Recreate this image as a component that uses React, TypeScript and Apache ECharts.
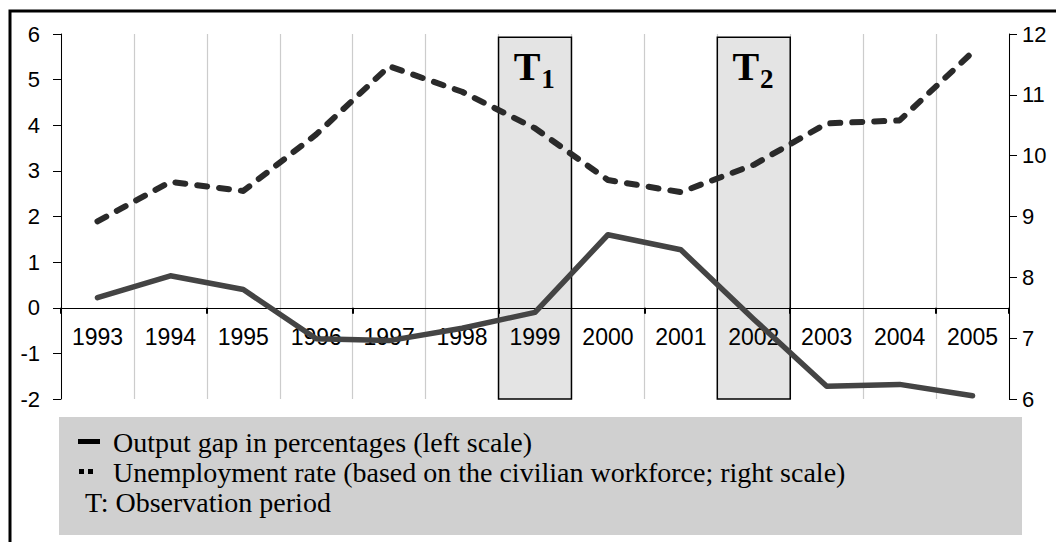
import React, { useEffect, useRef } from "react";
import * as echarts from "echarts";

const years = ["1993", "1994", "1995", "1996", "1997", "1998", "1999", "2000", "2001", "2002", "2003", "2004", "2005"];
const outputGap = [0.22, 0.7, 0.4, -0.68, -0.72, -0.45, -0.1, 1.6, 1.27, -0.25, -1.72, -1.68, -1.93];
const unemployment = [8.92, 9.57, 9.42, 10.35, 11.47, 11.05, 10.45, 9.6, 9.4, 9.85, 10.53, 10.58, 11.7];
const periods = ["1999", "2002"];
const periodLabels = ["1", "2"];
const periodTop = 5.93;
const leftMin = -2, leftMax = 6;
const rightMin = 6, rightMax = 12;
const legendLines = [
  "Output gap in percentages (left scale)",
  "Unemployment rate (based on the civilian workforce; right scale)",
  "T: Observation period",
];

const SANS = "Liberation Sans, Arial, sans-serif";
const SERIF = "Liberation Serif, Times New Roman, serif";

const GRID_TOP = 34;
const GRID_BOTTOM = 143;
const CHART_H = 542;
const PLOT_H = CHART_H - GRID_TOP - GRID_BOTTOM;
const ZERO_OFFSET = -PLOT_H * (0 - leftMin) / (leftMax - leftMin);

export default function App() {
  const ref = useRef<HTMLDivElement>(null);
  useEffect(() => {
    if (!ref.current) return;
    const chart = echarts.init(ref.current, null, { renderer: "svg" });
    chart.setOption({
      animation: false,
      backgroundColor: "#fff",
      grid: { left: 61, right: 47, top: GRID_TOP, bottom: GRID_BOTTOM },
      xAxis: [
        {
          type: "category",
          data: years,
          boundaryGap: true,
          position: "bottom",
          offset: ZERO_OFFSET,
          z: 3,
          axisLine: { onZero: false, lineStyle: { color: "#000", width: 1 } },
          axisTick: { show: true, interval: 1, length: 6, lineStyle: { color: "#000", width: 2 } },
          axisLabel: { fontSize: 23, color: "#000", fontFamily: SANS, margin: 18, interval: 0 },
          splitLine: { show: false },
        },
        {
          type: "category",
          data: years,
          boundaryGap: true,
          position: "top",
          z: 0,
          axisLine: { show: false },
          axisTick: { show: false },
          axisLabel: { show: false },
          splitLine: { show: true, interval: 0, lineStyle: { color: "#cccccc", width: 1.2 } },
        },
      ],
      yAxis: [
        {
          type: "value",
          min: leftMin,
          max: leftMax,
          interval: 1,
          position: "left",
          axisLine: { show: true, lineStyle: { color: "#000", width: 1 } },
          axisTick: { show: true, length: 8, lineStyle: { color: "#000" } },
          axisLabel: { fontSize: 22, color: "#000", fontFamily: SANS, margin: 21 },
          splitLine: { show: false },
        },
        {
          type: "value",
          min: rightMin,
          max: rightMax,
          interval: 1,
          position: "right",
          axisLine: { show: true, lineStyle: { color: "#000", width: 1 } },
          axisTick: { show: true, length: 8, lineStyle: { color: "#000" } },
          axisLabel: { fontSize: 22, color: "#000", fontFamily: SANS, margin: 13 },
          splitLine: { show: false },
        },
      ],
      series: [
        {
          type: "custom",
          z: 1,
          xAxisIndex: 0,
          yAxisIndex: 0,
          data: periods.map((p) => [p]),
          encode: { x: 0 },
          renderItem: (params: any, api: any) => {
            const idx = api.value(0);
            const top = api.coord([idx, periodTop]);
            const bottom = api.coord([idx, leftMin]);
            const bw = api.size([1, 0])[0];
            const cx = top[0];
            return {
              type: "group",
              children: [
                {
                  type: "rect",
                  shape: { x: cx - bw / 2, y: top[1], width: bw, height: bottom[1] - top[1] },
                  style: { fill: "#e4e4e4", stroke: "#000", lineWidth: 1.5 },
                },
                {
                  type: "text",
                  x: cx - 8,
                  y: top[1] + 29.5,
                  style: {
                    text: "T",
                    fontSize: 40,
                    fontWeight: "bold",
                    fontFamily: SERIF,
                    fill: "#000",
                    align: "center",
                    verticalAlign: "middle",
                  },
                },
                {
                  type: "text",
                  x: cx + 13,
                  y: top[1] + 42,
                  style: {
                    text: periodLabels[params.dataIndex],
                    fontSize: 27,
                    fontWeight: "bold",
                    fontFamily: SERIF,
                    fill: "#000",
                    align: "center",
                    verticalAlign: "middle",
                  },
                },
              ],
            };
          },
        },
        {
          name: "Output gap",
          type: "line",
          z: 4,
          xAxisIndex: 0,
          yAxisIndex: 0,
          data: outputGap,
          showSymbol: false,
          symbol: "none",
          lineStyle: { color: "#444", width: 5.5, join: "round", cap: "round" },
        },
        {
          name: "Unemployment rate",
          type: "line",
          z: 4,
          xAxisIndex: 0,
          yAxisIndex: 1,
          data: unemployment,
          showSymbol: false,
          symbol: "none",
          lineStyle: { color: "#2a2a2a", width: 6, type: [10, 12], cap: "round", join: "round" },
        },
      ],
      graphic: [
        {
          type: "rect",
          z: 100,
          shape: { x: 10, y: 11, width: 1100, height: 600 },
          style: { fill: "none", stroke: "#000", lineWidth: 3 },
        },
        {
          type: "rect",
          z: 5,
          shape: { x: 59, y: 417, width: 963, height: 118 },
          style: { fill: "#d0d0d0" },
        },
        {
          type: "rect",
          z: 6,
          shape: { x: 78, y: 439, width: 22, height: 5 },
          style: { fill: "#000" },
        },
        {
          type: "rect",
          z: 6,
          shape: { x: 79, y: 469, width: 5, height: 5 },
          style: { fill: "#000" },
        },
        {
          type: "rect",
          z: 6,
          shape: { x: 88, y: 469, width: 5, height: 5 },
          style: { fill: "#000" },
        },
        ...legendLines.map((t, i) => ({
          type: "text",
          z: 6,
          x: i === 2 ? 85 : 113,
          y: 442 + i * 30,
          style: {
            text: t,
            fontSize: 28,
            fontFamily: SERIF,
            fill: "#000",
            align: "left",
            verticalAlign: "middle",
          },
        })),
      ],
    });
    return () => chart.dispose();
  }, []);
  return <div ref={ref} style={{ width: 1056, height: 542, position: "absolute", left: 0, top: 0 }} />;
}
